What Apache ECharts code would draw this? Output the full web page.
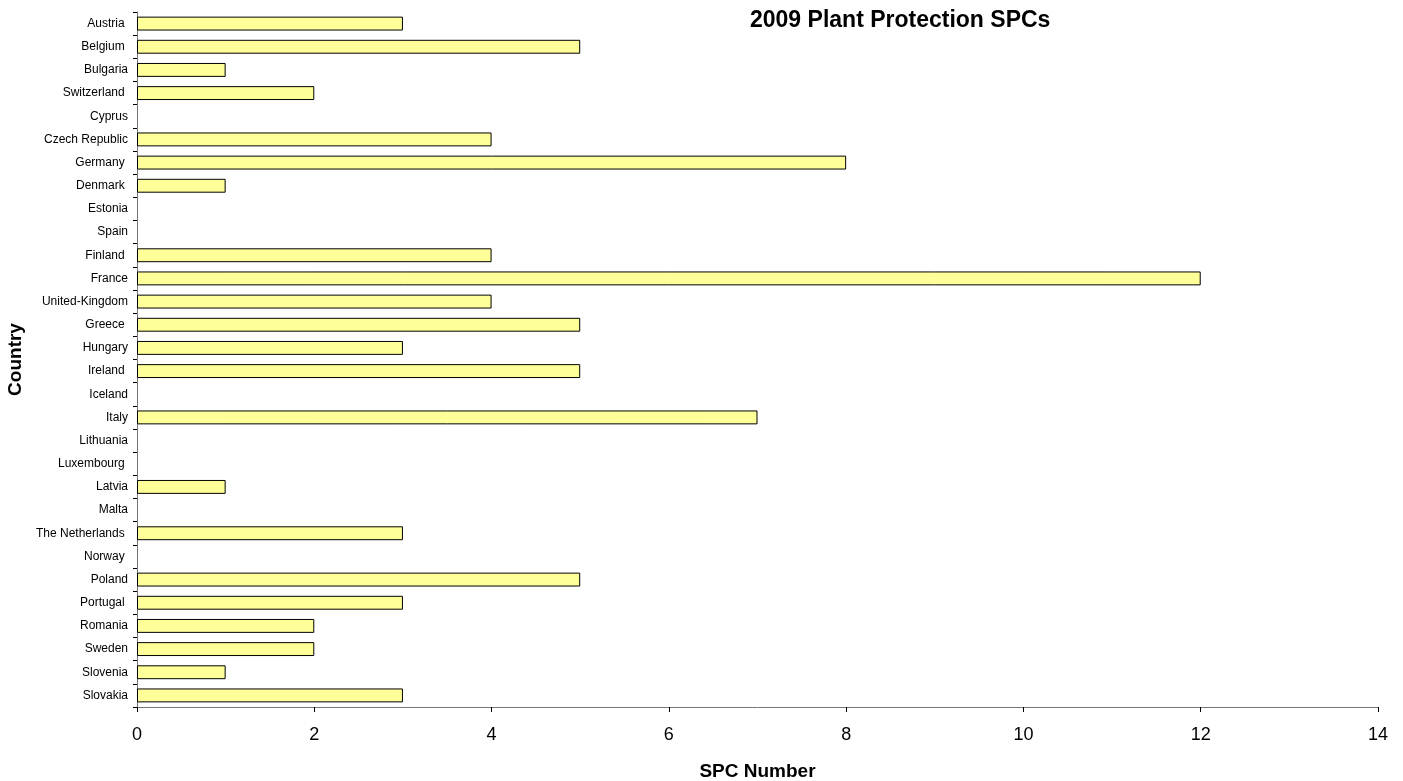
<!DOCTYPE html>
<html>
<head>
<meta charset="utf-8">
<script src="https://cdn.jsdelivr.net/npm/echarts@6/dist/echarts.min.js"></script>
<style>
html,body{margin:0;padding:0;background:#fff;}
#chart{width:1403px;height:781px;}
</style>
</head>
<body>
<div id="chart"></div>
<script>
const categories = ["Austria ", "Belgium ", "Bulgaria", "Switzerland ", "Cyprus", "Czech Republic", "Germany ", "Denmark ", "Estonia", "Spain", "Finland ", "France", "United-Kingdom", "Greece ", "Hungary", "Ireland ", "Iceland", "Italy", "Lithuania", "Luxembourg ", "Latvia", "Malta", "The Netherlands ", "Norway ", "Poland", "Portugal ", "Romania", "Sweden", "Slovenia", "Slovakia"];
const spcValues = [3, 5, 1, 2, 0, 4, 8, 1, 0, 0, 4, 12, 4, 5, 3, 5, 0, 7, 0, 0, 1, 0, 3, 0, 5, 3, 2, 2, 1, 3];
const xTicks = [0, 2, 4, 6, 8, 10, 12, 14];

const FONT = 'Arial, "Liberation Sans", sans-serif';
const chart = echarts.init(document.getElementById('chart'), null, {renderer: 'canvas'});
chart.setOption({
  animation: false,
  backgroundColor: '#ffffff',
  title: {
    text: '2009 Plant Protection SPCs',
    left: 750, top: 9, padding: 0,
    textStyle: {fontFamily: FONT, fontSize: 23, fontWeight: 'bold', color: '#000'}
  },
  grid: {left: 137, right: 25, top: 12, bottom: 74, containLabel: false, outerBoundsMode: 'none'},
  xAxis: {
    type: 'value',
    min: xTicks[0], max: xTicks[xTicks.length - 1], interval: 2,
    name: 'SPC Number', nameLocation: 'middle', nameGap: 55,
    nameTextStyle: {fontFamily: FONT, fontSize: 19, fontWeight: 'bold', color: '#000'},
    axisLine: {show: true, lineStyle: {color: '#777', width: 1}},
    axisTick: {show: true, length: 5, lineStyle: {color: '#000'}},
    axisLabel: {fontFamily: FONT, fontSize: 18, color: '#000', margin: 19},
    splitLine: {show: false}
  },
  yAxis: {
    type: 'category',
    data: categories,
    inverse: true,
    name: 'Country', nameLocation: 'middle', nameGap: 111,
    nameTextStyle: {fontFamily: FONT, fontSize: 19, fontWeight: 'bold', color: '#000'},
    axisLine: {show: true, lineStyle: {color: '#777', width: 1}},
    axisTick: {show: true, length: 4, alignWithLabel: false, lineStyle: {color: '#000'}},
    axisLabel: {fontFamily: FONT, fontSize: 12, color: '#000', margin: 9, interval: 0}
  },
  series: [{
    type: 'bar',
    data: spcValues.map(v => v === 0 ? {value: v, itemStyle: {borderWidth: 0}} : v),
    barCategoryGap: '40%',
    itemStyle: {color: '#FFFF99', borderColor: '#000', borderWidth: 1}
  }]
});
</script>
</body>
</html>
